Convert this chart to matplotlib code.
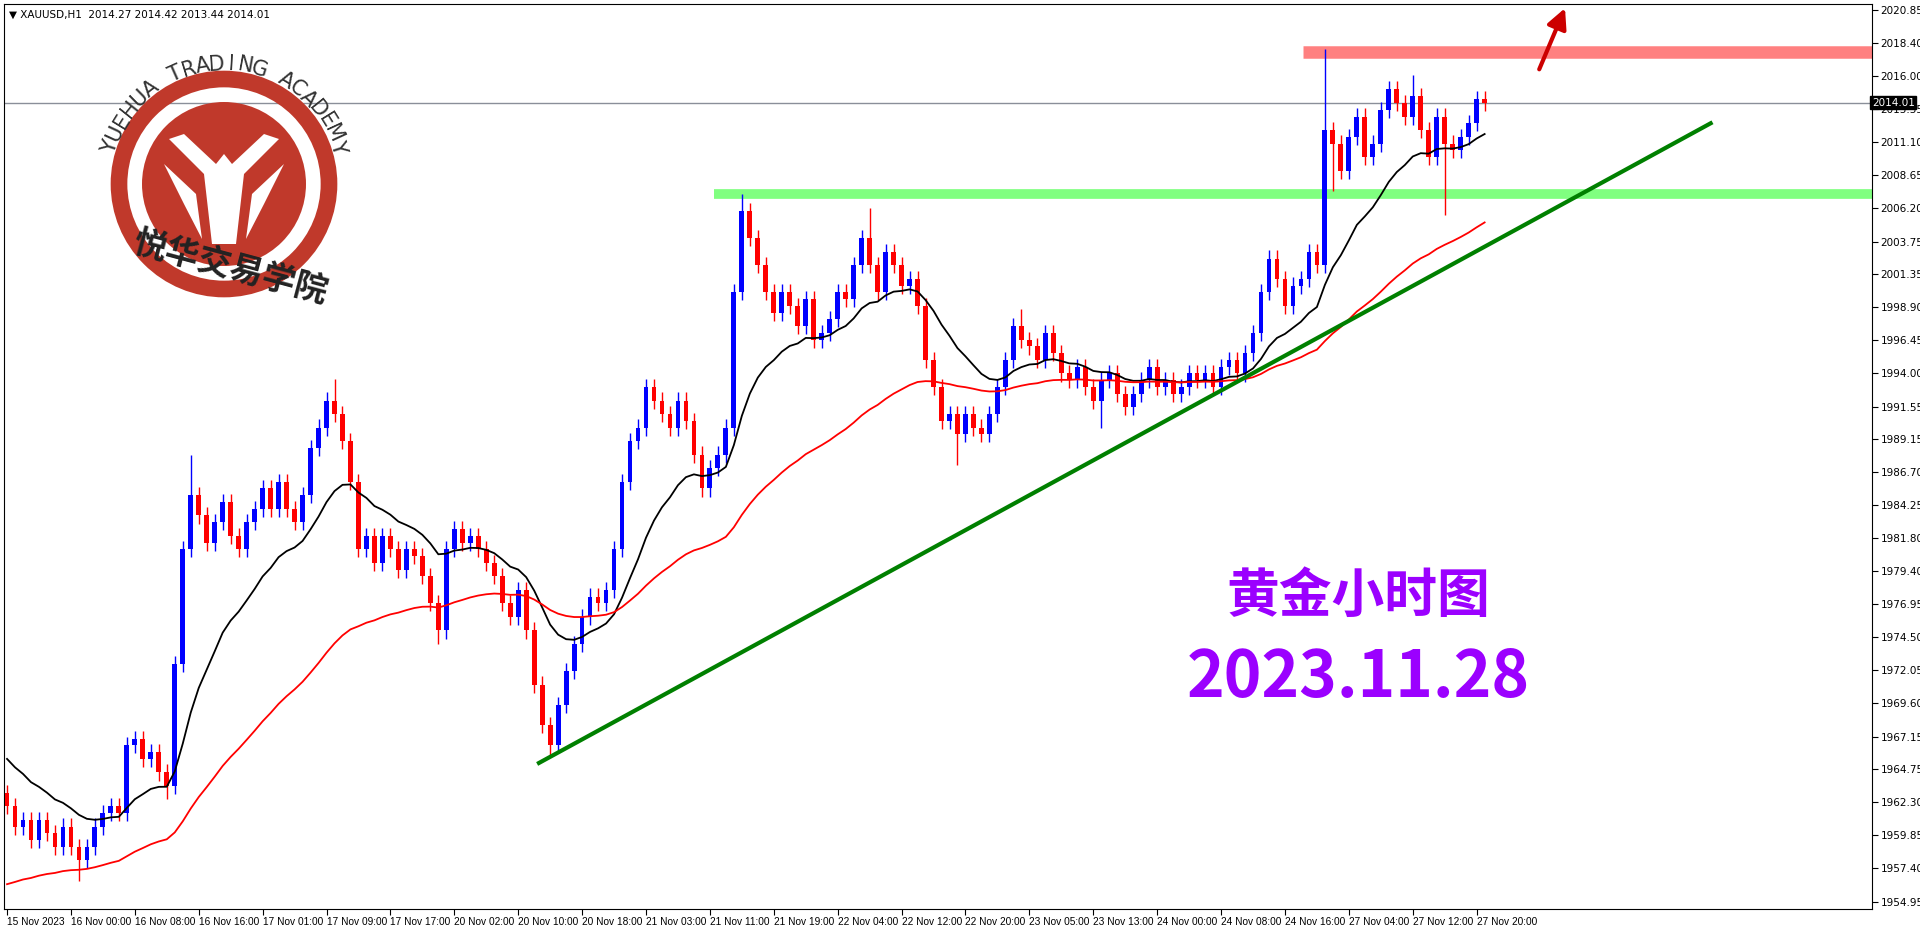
import matplotlib
matplotlib.use("Agg")
import matplotlib.pyplot as plt
import numpy as np
from matplotlib.patches import Circle, Polygon
plt.rcParams['font.family'] = ['Noto Sans CJK SC', 'DejaVu Sans']

closes = [1962,1960.5,1961,1959.5,1961,1960,1959,1960.5,1959,1958,
          1959,1960.5,1961.5,1962,1961.5,
          1966.5,1967,1965.5,1966,1964.5,1963.5,
          1972.5,1981,1985,1983.5,1981.5,1983,1984.5,1982,1981,1983,
          1984,1985.5,1984,1986,1984,1983,1985,1988.5,1990,1992,
          1991,1989,1986,1981,1982,1980,1982,1981,1979.5,1981,
          1980.5,1979,1977,1975,1981,1982.5,1981.5,1982,1981,1980,
          1979,1977,1976,1978,1975,1971,1968,1966.5,1969.5,1972,
          1974,1976,1977.5,1977,1978,1981,1986,1989,1990,1993,
          1992,1991,1990,1992,1990.5,1988,1985.5,1987,1988,1990,
          2000,2006,2004,2002,2000,1998.5,2000,1999,1997.5,1999.5,
          1996.5,1997,1998,2000,1999.5,2002,2004,2002,2000,2003,
          2002,2000.5,2001,1999,1995,1993,1990.5,1991,1989.5,1991,
          1990,1989.5,1991,1993,1995,1997.5,1996.5,1996,1995,1997,
          1995.5,1994,1993.5,1994.5,1993,1992,1993.5,1994,1992.5,1991.5,
          1992.5,1993.5,1994.5,1993,1993.5,1992.5,1993,1994,1993.5,1994,
          1993,1994.5,1995,1994,1995.5,1997,2000,2002.5,2001,1999,
          2000.5,2001,2003,2002,2012,2011,2009,2011.5,2013,2010,
          2011,2013.5,2015,2014,2013,2014.5,2012,2010,2013,2011,
          2010.5,2011.5,2012.5,2014.3,2014.01]
first_open = 1963.0
last_open = 2014.27
highs_special = {23: 1988.0, 41: 1993.6, 92: 2007.3, 108: 2006.2, 127: 1998.8,
                 165: 2018.0, 176: 2016.1, 184: 2014.9}
lows_special = {9: 1956.5, 20: 1962.5, 54: 1974.0, 68: 1965.8, 119: 1987.2,
                137: 1990.0, 180: 2005.7, 166: 2007.5}

time_labels = ["15 Nov 2023","16 Nov 00:00","16 Nov 08:00","16 Nov 16:00","17 Nov 01:00",
               "17 Nov 09:00","17 Nov 17:00","20 Nov 02:00","20 Nov 10:00","20 Nov 18:00",
               "21 Nov 03:00","21 Nov 11:00","21 Nov 19:00","22 Nov 04:00","22 Nov 12:00",
               "22 Nov 20:00","23 Nov 05:00","23 Nov 13:00","24 Nov 00:00","24 Nov 08:00",
               "24 Nov 16:00","27 Nov 04:00","27 Nov 12:00","27 Nov 20:00"]
price_ticks = [2020.85,2018.40,2016.00,2013.55,2011.10,2008.65,2006.20,2003.75,2001.35,
               1998.90,1996.45,1994.00,1991.55,1989.15,1986.70,1984.25,1981.80,1979.40,
               1976.95,1974.50,1972.05,1969.60,1967.15,1964.75,1962.30,1959.85,1957.40,1954.95]
current_price = 2014.01
resistance = 2017.8
support = 2007.3
trend_pts = [(66.6, 1965.2), (213.3, 2012.5)]

n = len(closes)
opens = [first_open] + closes[:-1]
opens[-1] = last_open

fig = plt.figure(figsize=(19.2, 9.27), dpi=100)
ax = fig.add_axes([0.002, 0.0194, 0.973, 0.976])
ax.set_xlim(-0.4, 233.5)
ax.set_ylim(1954.4, 2021.3)

for i in range(n):
    o, c = opens[i], closes[i]
    col = '#0000FF' if c >= o else '#FF0000'
    hi = highs_special.get(i, max(o, c) + 0.6)
    lo = lows_special.get(i, min(o, c) - 0.6)
    ax.vlines(i, lo, hi, color=col, lw=1.0, zorder=3)
    b = max(abs(c - o), 0.15)
    ax.bar(i, b, bottom=min(o, c), width=0.6, color=col, zorder=4, linewidth=0)

def ema(vals, span, seed):
    a = 2 / (span + 1)
    out, v = [], seed
    for x in vals:
        v = v + a * (x - v)
        out.append(v)
    return out

ax.plot(range(n), ema(closes, 15, 1966.0), color='black', lw=1.3, zorder=5)
ax.plot(range(n), ema(closes, 50, 1956.0), color='#FF0000', lw=1.3, zorder=5)

ax.axhline(current_price, color='#8a8f99', lw=1.0, zorder=2)
ax.plot([88.5, 233.5], [support, support], color='#80FF80', lw=7, zorder=2, solid_capstyle='butt')
ax.plot([162.3, 233.5], [resistance, resistance], color='#FF8080', lw=9, zorder=2, solid_capstyle='butt')
ax.plot([p[0] for p in trend_pts], [p[1] for p in trend_pts], color='#008000', lw=3, zorder=6)
ax.annotate('', xy=(195.2, 2021.2), xytext=(191.7, 2016.3),
            arrowprops=dict(arrowstyle='-|>,head_width=0.6,head_length=1.2', color='#CC0000', lw=3),
            annotation_clip=False, zorder=7)

ax.yaxis.tick_right()
ax.set_yticks(price_ticks)
ax.set_yticklabels([f"{p:.2f}" for p in price_ticks], fontsize=7.5, family='DejaVu Sans')
ax.tick_params(axis='y', length=4, pad=2)
ax.set_xticks([k * 8 for k in range(len(time_labels))])
ax.set_xticklabels(time_labels, fontsize=7.3, ha='left', family='Liberation Sans')
ax.tick_params(axis='x', length=4, pad=2)
for s in ax.spines.values():
    s.set_color('black')

ax.text(1.0, (current_price - 1954.4) / (2021.3 - 1954.4), f"{current_price:.2f}",
        transform=ax.transAxes, fontsize=7.5, color='white', va='center', ha='left',
        family='DejaVu Sans', bbox=dict(boxstyle='square,pad=0.15', fc='black', ec='black'))
ax.text(0.003, 0.994, "▼ XAUUSD,H1  2014.27 2014.42 2013.44 2014.01", transform=ax.transAxes,
        fontsize=7.5, va='top', family='DejaVu Sans')

ax.text(0.725, 0.345, "黄金小时图", transform=ax.transAxes, fontsize=38, color='#9B00FF',
        ha='center', va='center', fontweight='bold')
ax.text(0.725, 0.255, "2023.11.28", transform=ax.transAxes, fontsize=46, color='#9B00FF',
        ha='center', va='center', fontweight='bold')

# logo
lax = fig.add_axes([224/1920 - 150/1920, 1 - (184 + 150)/927, 300/1920, 300/927])
lax.set_xlim(-150, 150); lax.set_ylim(-150, 150); lax.set_aspect('equal'); lax.axis('off')
red = '#C0392B'
lax.add_patch(Circle((0, 0), 105, fill=False, ec=red, lw=12))
lax.add_patch(Circle((0, 0), 82, fc=red, ec='none'))
lax.add_patch(Polygon([(-55, 45), (-20, 10), (-12, -60), (12, -60), (20, 10), (55, 45),
                       (40, 50), (8, 20), (0, 30), (-8, 20), (-40, 50)], fc='white', ec='none'))
lax.add_patch(Polygon([(-60, 20), (-28, -10), (-22, -55), (-40, -20)], fc='white', ec='none'))
lax.add_patch(Polygon([(60, 20), (28, -10), (22, -55), (40, -20)], fc='white', ec='none'))
txt = "YUEHUA TRADING ACADEMY"
angs = np.linspace(162, 18, len(txt))
for ch, a in zip(txt, angs):
    r = 120
    lax.text(r*np.cos(np.radians(a)), r*np.sin(np.radians(a)), ch, rotation=a-90,
             ha='center', va='center', fontsize=15, color='#333333', family='DejaVu Sans')
fig.text(230/1920, 1 - 268/927, "悦华交易学院", fontsize=24, fontweight='bold', color='#222222',
         ha='center', va='center', rotation=-15)

fig.savefig("out.png", dpi=100)
